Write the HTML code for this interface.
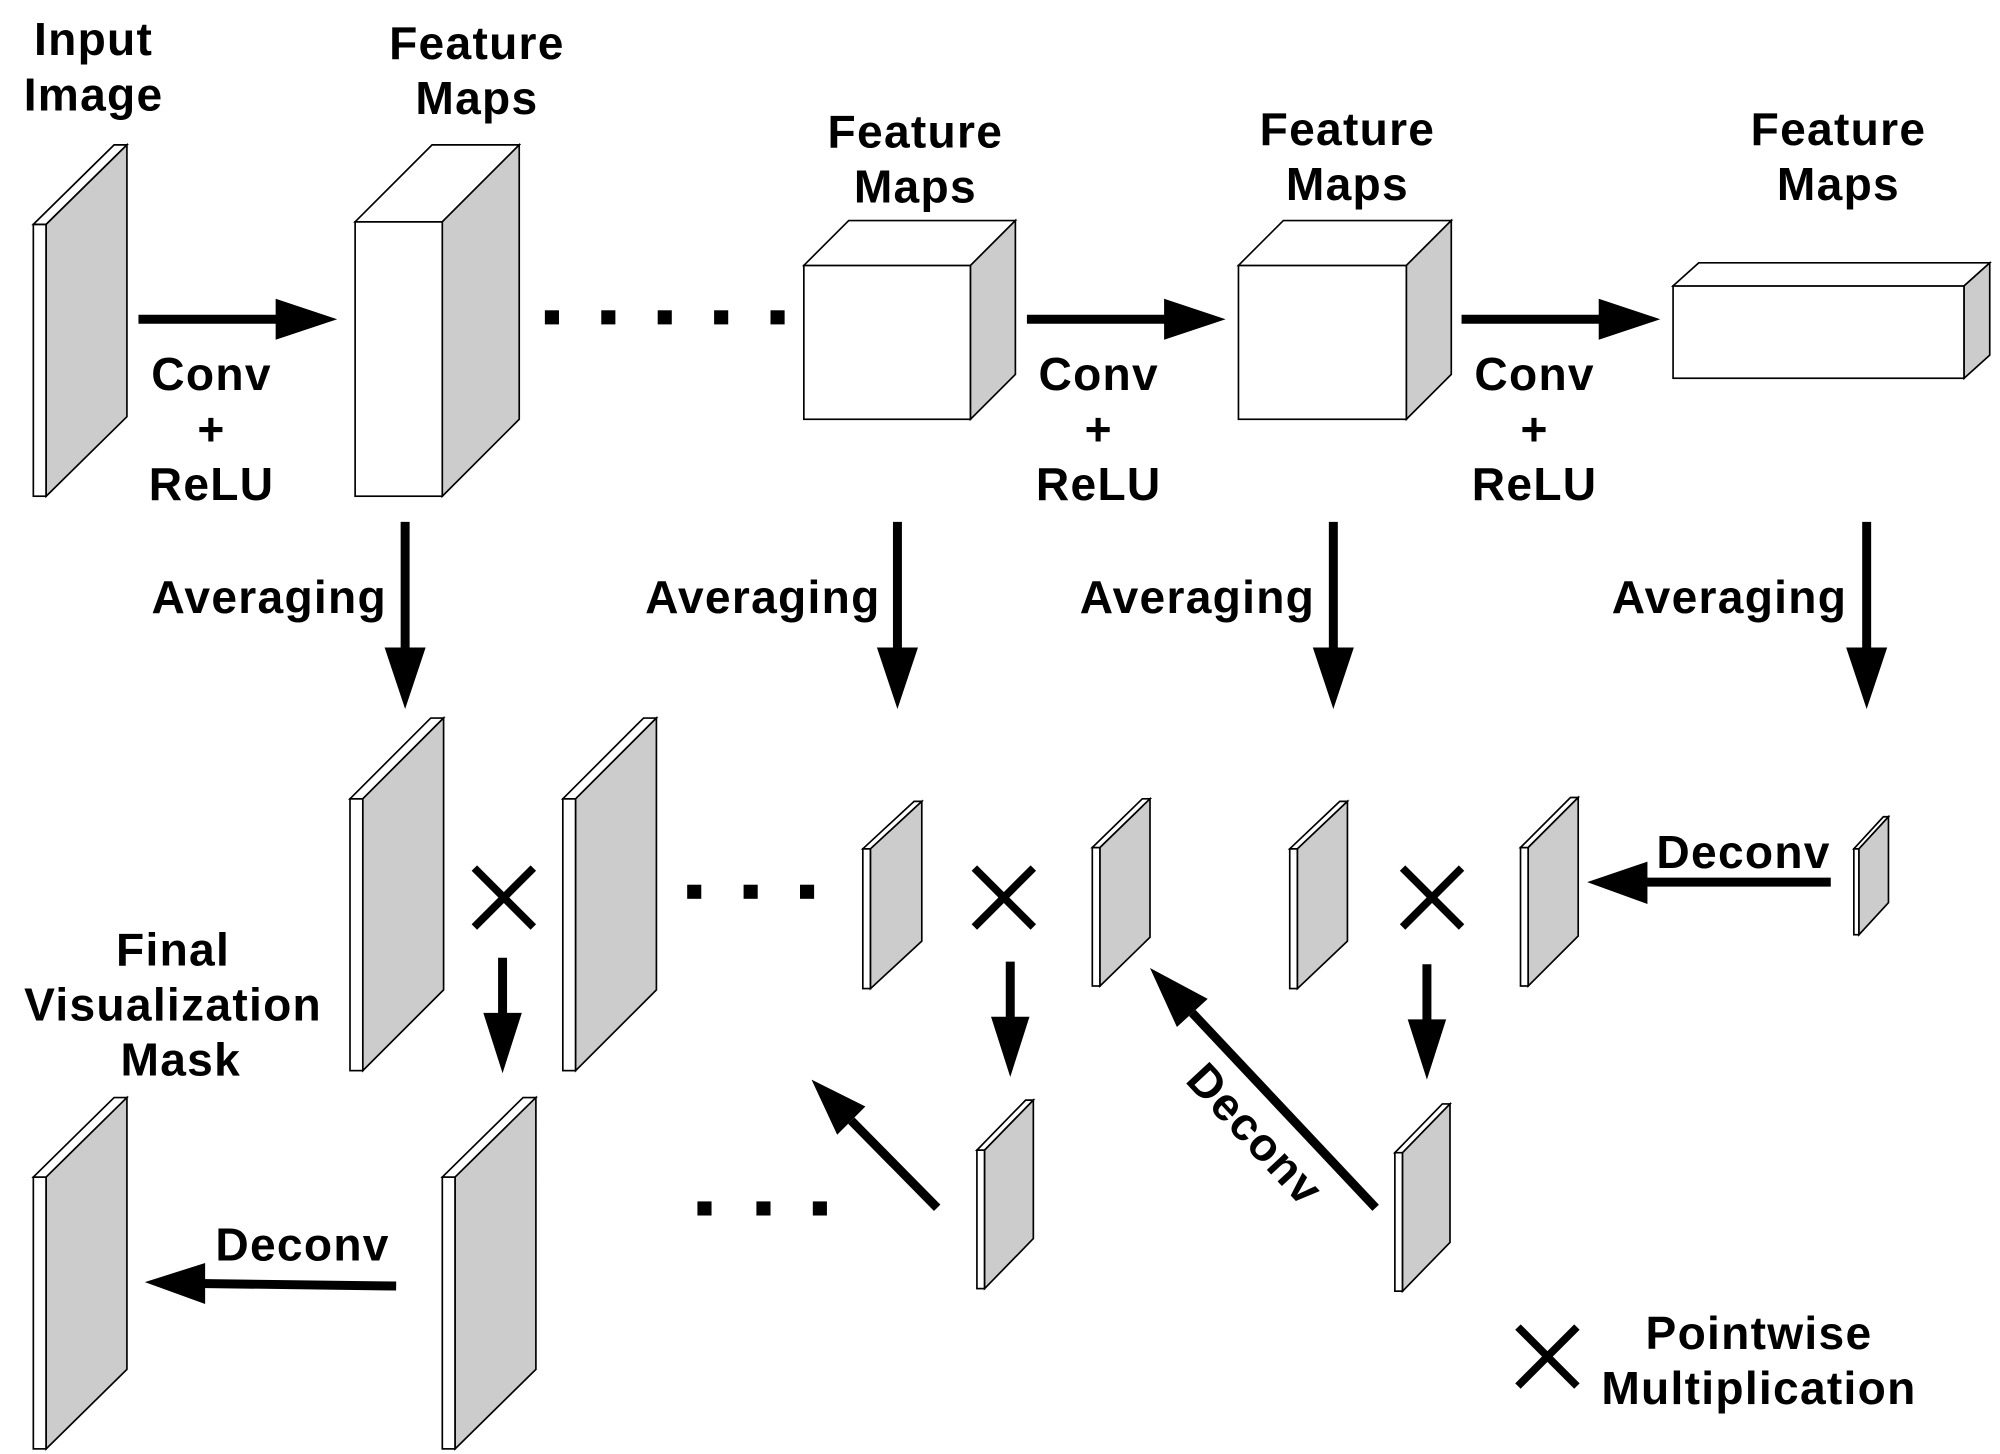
<!DOCTYPE html>
<html><head><meta charset="utf-8"><style>
html,body{margin:0;padding:0;background:#fff}
svg{display:block}
text{font-family:"Liberation Sans",sans-serif;font-weight:bold;font-size:36px;letter-spacing:1px;fill:#000;text-anchor:middle}
</style></head><body>
<svg width="2000" height="1454" viewBox="0 0 1560 1134" preserveAspectRatio="none" xmlns="http://www.w3.org/2000/svg">
<g stroke="#000" stroke-width="1.3" stroke-linejoin="miter">
<rect x="26" y="175" width="10" height="212" fill="#fff"/><polygon points="26,175 89,113 99,113 36,175" fill="#fff"/><polygon points="36,175 99,113 99,325 36,387" fill="#ccc"/>
<rect x="277" y="173" width="68" height="214" fill="#fff"/><polygon points="277,173 337,113 405,113 345,173" fill="#fff"/><polygon points="345,173 405,113 405,327 345,387" fill="#ccc"/>
<rect x="627" y="207" width="130" height="120" fill="#fff"/><polygon points="627,207 662,172 792,172 757,207" fill="#fff"/><polygon points="757,207 792,172 792,292 757,327" fill="#ccc"/>
<rect x="966" y="207" width="131" height="120" fill="#fff"/><polygon points="966,207 1001,172 1132,172 1097,207" fill="#fff"/><polygon points="1097,207 1132,172 1132,292 1097,327" fill="#ccc"/>
<rect x="1305" y="223" width="227" height="72" fill="#fff"/><polygon points="1305,223 1325,205 1552,205 1532,223" fill="#fff"/><polygon points="1532,223 1552,205 1552,277 1532,295" fill="#ccc"/>
<rect x="273" y="623" width="10" height="212" fill="#fff"/><polygon points="273,623 336,560 346,560 283,623" fill="#fff"/><polygon points="283,623 346,560 346,772 283,835" fill="#ccc"/>
<rect x="439" y="623" width="10" height="212" fill="#fff"/><polygon points="439,623 502,560 512,560 449,623" fill="#fff"/><polygon points="449,623 512,560 512,772 449,835" fill="#ccc"/>
<rect x="673" y="662" width="6" height="109" fill="#fff"/><polygon points="673,662 713,625 719,625 679,662" fill="#fff"/><polygon points="679,662 719,625 719,734 679,771" fill="#ccc"/>
<rect x="852" y="661" width="6" height="108" fill="#fff"/><polygon points="852,661 891,623 897,623 858,661" fill="#fff"/><polygon points="858,661 897,623 897,731 858,769" fill="#ccc"/>
<rect x="1006" y="662" width="6" height="109" fill="#fff"/><polygon points="1006,662 1045,625 1051,625 1012,662" fill="#fff"/><polygon points="1012,662 1051,625 1051,734 1012,771" fill="#ccc"/>
<rect x="1186" y="661" width="6" height="108" fill="#fff"/><polygon points="1186,661 1225,622 1231,622 1192,661" fill="#fff"/><polygon points="1192,661 1231,622 1231,730 1192,769" fill="#ccc"/>
<rect x="1446" y="662" width="4" height="67" fill="#fff"/><polygon points="1446,662 1469,637 1473,637 1450,662" fill="#fff"/><polygon points="1450,662 1473,637 1473,704 1450,729" fill="#ccc"/>
<rect x="762" y="897" width="6" height="108" fill="#fff"/><polygon points="762,897 800,858 806,858 768,897" fill="#fff"/><polygon points="768,897 806,858 806,966 768,1005" fill="#ccc"/>
<rect x="1088" y="899" width="6" height="108" fill="#fff"/><polygon points="1088,899 1125,861 1131,861 1094,899" fill="#fff"/><polygon points="1094,899 1131,861 1131,969 1094,1007" fill="#ccc"/>
<rect x="345" y="918" width="10" height="212" fill="#fff"/><polygon points="345,918 408,856 418,856 355,918" fill="#fff"/><polygon points="355,918 418,856 418,1068 355,1130" fill="#ccc"/>
<rect x="26" y="918" width="10" height="212" fill="#fff"/><polygon points="26,918 89,856 99,856 36,918" fill="#fff"/><polygon points="36,918 99,856 99,1068 36,1130" fill="#ccc"/>
</g>
<g stroke="#000" stroke-width="7" fill="none">
<line x1="108" y1="249" x2="220" y2="249"/><line x1="801" y1="249" x2="913" y2="249"/><line x1="1140" y1="249" x2="1252" y2="249"/>
<line x1="316" y1="407" x2="316" y2="510"/><line x1="700" y1="407" x2="700" y2="510"/><line x1="1040" y1="407" x2="1040" y2="510"/><line x1="1456" y1="407" x2="1456" y2="510"/>
<line x1="392" y1="747" x2="392" y2="792"/><line x1="788" y1="750" x2="788" y2="795"/><line x1="1113" y1="752" x2="1113" y2="797"/>
<line x1="1428" y1="688" x2="1280" y2="688"/><line x1="309" y1="1003" x2="155" y2="1001"/>
<line x1="731" y1="942" x2="664" y2="874"/><line x1="1073" y1="942" x2="930" y2="790"/>
</g>
<g fill="#000">
<polygon points="215,233 263,249 215,265"/><polygon points="908,233 956,249 908,265"/><polygon points="1247,233 1295,249 1247,265"/>
<polygon points="300,505 316,553 332,505"/><polygon points="684,505 700,553 716,505"/><polygon points="1024,505 1040,553 1056,505"/><polygon points="1440,505 1456,553 1472,505"/>
<polygon points="377,790 392,837 407,790"/><polygon points="773,793 788,840 803,793"/><polygon points="1098,795 1113,842 1128,795"/>
<polygon points="1285,672 1238,688 1285,705"/><polygon points="160,985 113,1000 160,1017"/>
<polygon points="675,863 633,842 653,885"/><polygon points="942,779 897,755 918,801"/>
<rect x="425" y="242" width="11" height="11"/><rect x="469" y="242" width="11" height="11"/><rect x="513" y="242" width="11" height="11"/><rect x="557" y="242" width="11" height="11"/><rect x="601" y="242" width="11" height="11"/>
<rect x="536" y="690" width="11" height="11"/><rect x="580" y="690" width="11" height="11"/><rect x="624" y="690" width="11" height="11"/>
<rect x="544" y="937" width="11" height="11"/><rect x="590" y="937" width="11" height="11"/><rect x="634" y="937" width="11" height="11"/>
</g>
<g stroke="#000" stroke-width="6">
<path d="M370,677 L416,723 M416,677 L370,723"/>
<path d="M760,677 L806,723 M806,677 L760,723"/>
<path d="M1094,677 L1140,723 M1140,677 L1094,723"/>
<path d="M1184,1035 L1230,1081 M1230,1035 L1184,1081"/>
</g>
<text x="73" y="43">Input</text><text x="73" y="86">Image</text>
<text x="372" y="46">Feature</text><text x="372" y="89">Maps</text>
<text x="714" y="115">Feature</text><text x="714" y="158">Maps</text>
<text x="1051" y="113">Feature</text><text x="1051" y="156">Maps</text>
<text x="1434" y="113">Feature</text><text x="1434" y="156">Maps</text>
<text x="165" y="304">Conv</text><text x="165" y="347">+</text><text x="165" y="390">ReLU</text>
<text x="857" y="304">Conv</text><text x="857" y="347">+</text><text x="857" y="390">ReLU</text>
<text x="1197" y="304">Conv</text><text x="1197" y="347">+</text><text x="1197" y="390">ReLU</text>
<text x="210" y="478">Averaging</text><text x="595" y="478">Averaging</text><text x="934" y="478">Averaging</text><text x="1349" y="478">Averaging</text>
<text x="1360" y="677">Deconv</text>
<text x="236" y="983">Deconv</text>
<text x="135" y="753">Final</text><text x="135" y="796">Visualization</text><text x="141" y="839">Mask</text>
<text x="1372" y="1052">Pointwise</text><text x="1372" y="1095">Multiplication</text>
<text transform="translate(970,893) rotate(47)" x="0" y="0">Deconv</text>
</svg>
</body></html>
